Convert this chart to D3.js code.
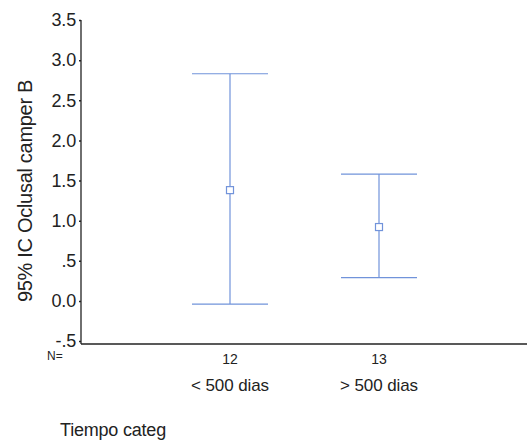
<!DOCTYPE html>
<html>
<head>
<meta charset="utf-8">
<script src="https://cdn.jsdelivr.net/npm/d3@7"></script>
<style>
  body { margin: 0; background: #fff; }
  text { font-family: "Liberation Sans", Arial, sans-serif; fill: #222; }
</style>
</head>
<body>
<div id="chart"></div>
<script>
/*
    DATA
*/
let categories = ["< 500 dias", "> 500 dias"];
let counts = [12, 13];
let means = [1.38, 0.92];
let lower = [-0.04, 0.29];
let upper = [2.83, 1.58];
let yTicks = [-0.5, 0, 0.5, 1, 1.5, 2, 2.5, 3, 3.5];
let yTickLabels = ["-.5", "0.0", ".5", "1.0", "1.5", "2.0", "2.5", "3.0", "3.5"];

/*
    CONSTANTS
*/
let SIZE = { width: 527, height: 444 };
let AXIS_X = 81;
let AXIS_Y = 344;
let LINE_COLOR = "#7193da";
let CAP_HALF = 38;

var svg = d3.select("#chart")
    .append("svg")
    .attr("width", SIZE.width)
    .attr("height", SIZE.height);

var y = d3.scaleLinear().domain([-0.5, 3.5]).range([341, 20]);
// categories sit at 1 and 2 on a 0..3 scale, like SPSS does
var x = d3.scaleLinear().domain([0, 3]).range([AXIS_X, 528]);

// y axis
var yAxis = d3.axisLeft(y)
    .tickValues(yTicks)
    .tickFormat((d, i) => yTickLabels[i])
    .tickSize(2)
    .tickPadding(3);
var yg = svg.append("g")
    .attr("transform", `translate(${AXIS_X},0)`)
    .call(yAxis);
yg.select(".domain").attr("stroke", "#222").attr("stroke-width", 1.3).attr("d", `M0,${y(3.5)}V${AXIS_Y}`);
yg.selectAll(".tick line").attr("stroke", "#222").attr("stroke-width", 1.5);
yg.selectAll(".tick text")
    .style("font-size", "18px")
    .style("letter-spacing", "-0.2px")
    .attr("fill", "#222");

// x axis baseline
svg.append("line")
    .attr("x1", AXIS_X).attr("x2", SIZE.width)
    .attr("y1", AXIS_Y).attr("y2", AXIS_Y)
    .attr("stroke", "#222")
    .attr("stroke-width", 1.3);

// N labels and category labels
svg.append("text")
    .attr("x", 47).attr("y", 360)
    .style("font-size", "12px")
    .text("N=");

var groups = svg.selectAll("g.cat")
    .data(categories)
    .enter()
    .append("g")
    .attr("class", "cat")
    .attr("transform", (d, i) => `translate(${x(i + 1)},0)`);

groups.append("text")
    .attr("y", 364)
    .attr("text-anchor", "middle")
    .style("font-size", "14px")
    .text((d, i) => counts[i]);

groups.append("text")
    .attr("y", 391)
    .attr("text-anchor", "middle")
    .style("font-size", "17px")
    .style("letter-spacing", "-0.1px")
    .text(d => d);

// error bars
groups.append("line")
    .attr("y1", (d, i) => y(upper[i]))
    .attr("y2", (d, i) => y(lower[i]))
    .attr("stroke", LINE_COLOR)
    .attr("stroke-width", 1.2);

groups.append("line")
    .attr("x1", -CAP_HALF).attr("x2", CAP_HALF)
    .attr("y1", (d, i) => y(upper[i]))
    .attr("y2", (d, i) => y(upper[i]))
    .attr("stroke", LINE_COLOR)
    .attr("stroke-width", 1.2);

groups.append("line")
    .attr("x1", -CAP_HALF).attr("x2", CAP_HALF)
    .attr("y1", (d, i) => y(lower[i]))
    .attr("y2", (d, i) => y(lower[i]))
    .attr("stroke", LINE_COLOR)
    .attr("stroke-width", 1.2);

groups.append("rect")
    .attr("x", -3.5).attr("width", 7)
    .attr("y", (d, i) => y(means[i]) - 3.5)
    .attr("height", 7)
    .attr("fill", "#fff")
    .attr("stroke", LINE_COLOR)
    .attr("stroke-width", 1.2);

// axis titles
svg.append("text")
    .attr("transform", "translate(32,191) rotate(-90)")
    .attr("text-anchor", "middle")
    .style("font-size", "20px")
    .style("letter-spacing", "-0.3px")
    .text("95% IC Oclusal camper B");

svg.append("text")
    .attr("x", 60).attr("y", 436)
    .style("font-size", "18px")
    .style("letter-spacing", "-0.2px")
    .text("Tiempo categ");
</script>
</body>
</html>
